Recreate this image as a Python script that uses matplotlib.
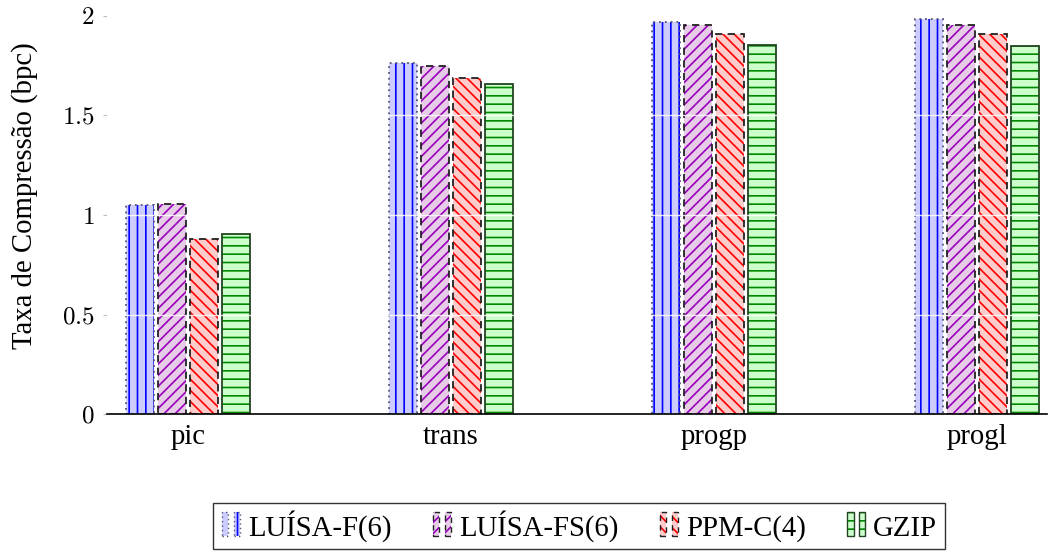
import matplotlib
matplotlib.use("Agg")
import matplotlib.pyplot as plt
from matplotlib.patches import Patch, Rectangle
from matplotlib.legend_handler import HandlerBase
import numpy as np

categories = ["pic", "trans", "progp", "progl"]
series_names = ["LUÍSA-F(6)", "LUÍSA-FS(6)", "PPM-C(4)", "GZIP"]
luisa_f = [1.049, 1.761, 1.970, 1.982]
luisa_fs = [1.055, 1.748, 1.955, 1.953]
ppm_c = [0.878, 1.686, 1.908, 1.910]
gzip = [0.903, 1.657, 1.853, 1.850]
yticks = [0, 0.5, 1, 1.5, 2]
ytick_labels = ["0", "0.5", "1", "1.5", "2"]

plt.rcParams['font.family'] = ['Liberation Serif', 'DejaVu Serif']
plt.rcParams['mathtext.fontset'] = 'cm'
plt.rcParams['hatch.linewidth'] = 1.2

styles = [
    dict(fc="#ccccff", hc="#0000ff", hatch="||", ec="#555577", ls=(0, (1, 2.2))),
    dict(fc="#e6cce6", hc="#9900bb", hatch="///", ec="#222222", ls=(0, (4, 3))),
    dict(fc="#ffcccc", hc="#ff0000", hatch="\\\\\\", ec="#222222", ls=(0, (4, 3))),
    dict(fc="#ccffcc", hc="#008800", hatch="--", ec="#224422", ls="solid"),
]
data = [luisa_f, luisa_fs, ppm_c, gzip]

TXT = 20.7

fig = plt.figure(figsize=(10.51, 5.51), dpi=100)
ax = fig.add_axes([107/1051, 1-414.3/551, (1047-107)/1051, (414.3-15.7)/551])

x = np.arange(len(categories))
step = 0.1217
width = 0.106
for i, (vals, st) in enumerate(zip(data, styles)):
    pos = x + (i - 1.5) * step
    ax.bar(pos, vals, width, facecolor=st["fc"], edgecolor=st["hc"], hatch=st["hatch"],
           linewidth=0, zorder=2)
    ax.bar(pos, vals, width, facecolor="none", edgecolor=st["ec"], linestyle=st["ls"],
           linewidth=1.3, zorder=3)

for yv in yticks[1:]:
    ax.axhline(yv, color="white", linewidth=1.0, alpha=0.85, zorder=4)

ax.set_xlim(-0.308, 3.266)
ax.set_ylim(0, 2.0)
for s in ["top", "right", "left"]:
    ax.spines[s].set_visible(False)
ax.spines["bottom"].set_linewidth(1.2)
ax.spines["bottom"].set_zorder(5)
ax.set_xticks(x)
ax.set_xticklabels(categories, fontsize=TXT)
ax.tick_params(axis="x", length=0, pad=7)
ax.set_yticks(yticks)
ax.set_yticklabels([f"${t}$" for t in ytick_labels], fontsize=18)
ax.tick_params(axis="y", length=3, color="#bbbbbb", pad=6)
ax.set_ylabel("Taxa de Compressão (bpc)", fontsize=TXT)
ax.yaxis.set_label_coords(-0.0734, 0.548)


class TwoBars(HandlerBase):
    def create_artists(self, legend, orig_handle, xdescent, ydescent, width, height, fontsize, trans):
        arts = []
        bw = width * 0.3
        for xo in [width * 0.05, width * 0.6]:
            for h in orig_handle:
                r = Rectangle((xo - xdescent, -ydescent), bw, height * 1.15)
                r.update_from(h)
                r.set_transform(trans)
                arts.append(r)
        return arts


handles = []
for st in styles:
    p1 = Patch(facecolor=st["fc"], edgecolor=st["hc"], hatch=st["hatch"], linewidth=0)
    p2 = Patch(facecolor="none", edgecolor=st["ec"], linestyle=st["ls"], linewidth=1.0)
    handles.append((p1, p2))

leg = fig.legend(handles, series_names, loc="center",
                 bbox_to_anchor=(579/1051, 1-526/551), ncol=4, fontsize=TXT,
                 handler_map={tuple: TwoBars()}, handlelength=0.75, handletextpad=0.2,
                 columnspacing=1.4, frameon=True, fancybox=False, edgecolor="black",
                 borderpad=0.25, borderaxespad=0)
leg.get_frame().set_linewidth(1.0)

fig.savefig("out.png", dpi=100)
